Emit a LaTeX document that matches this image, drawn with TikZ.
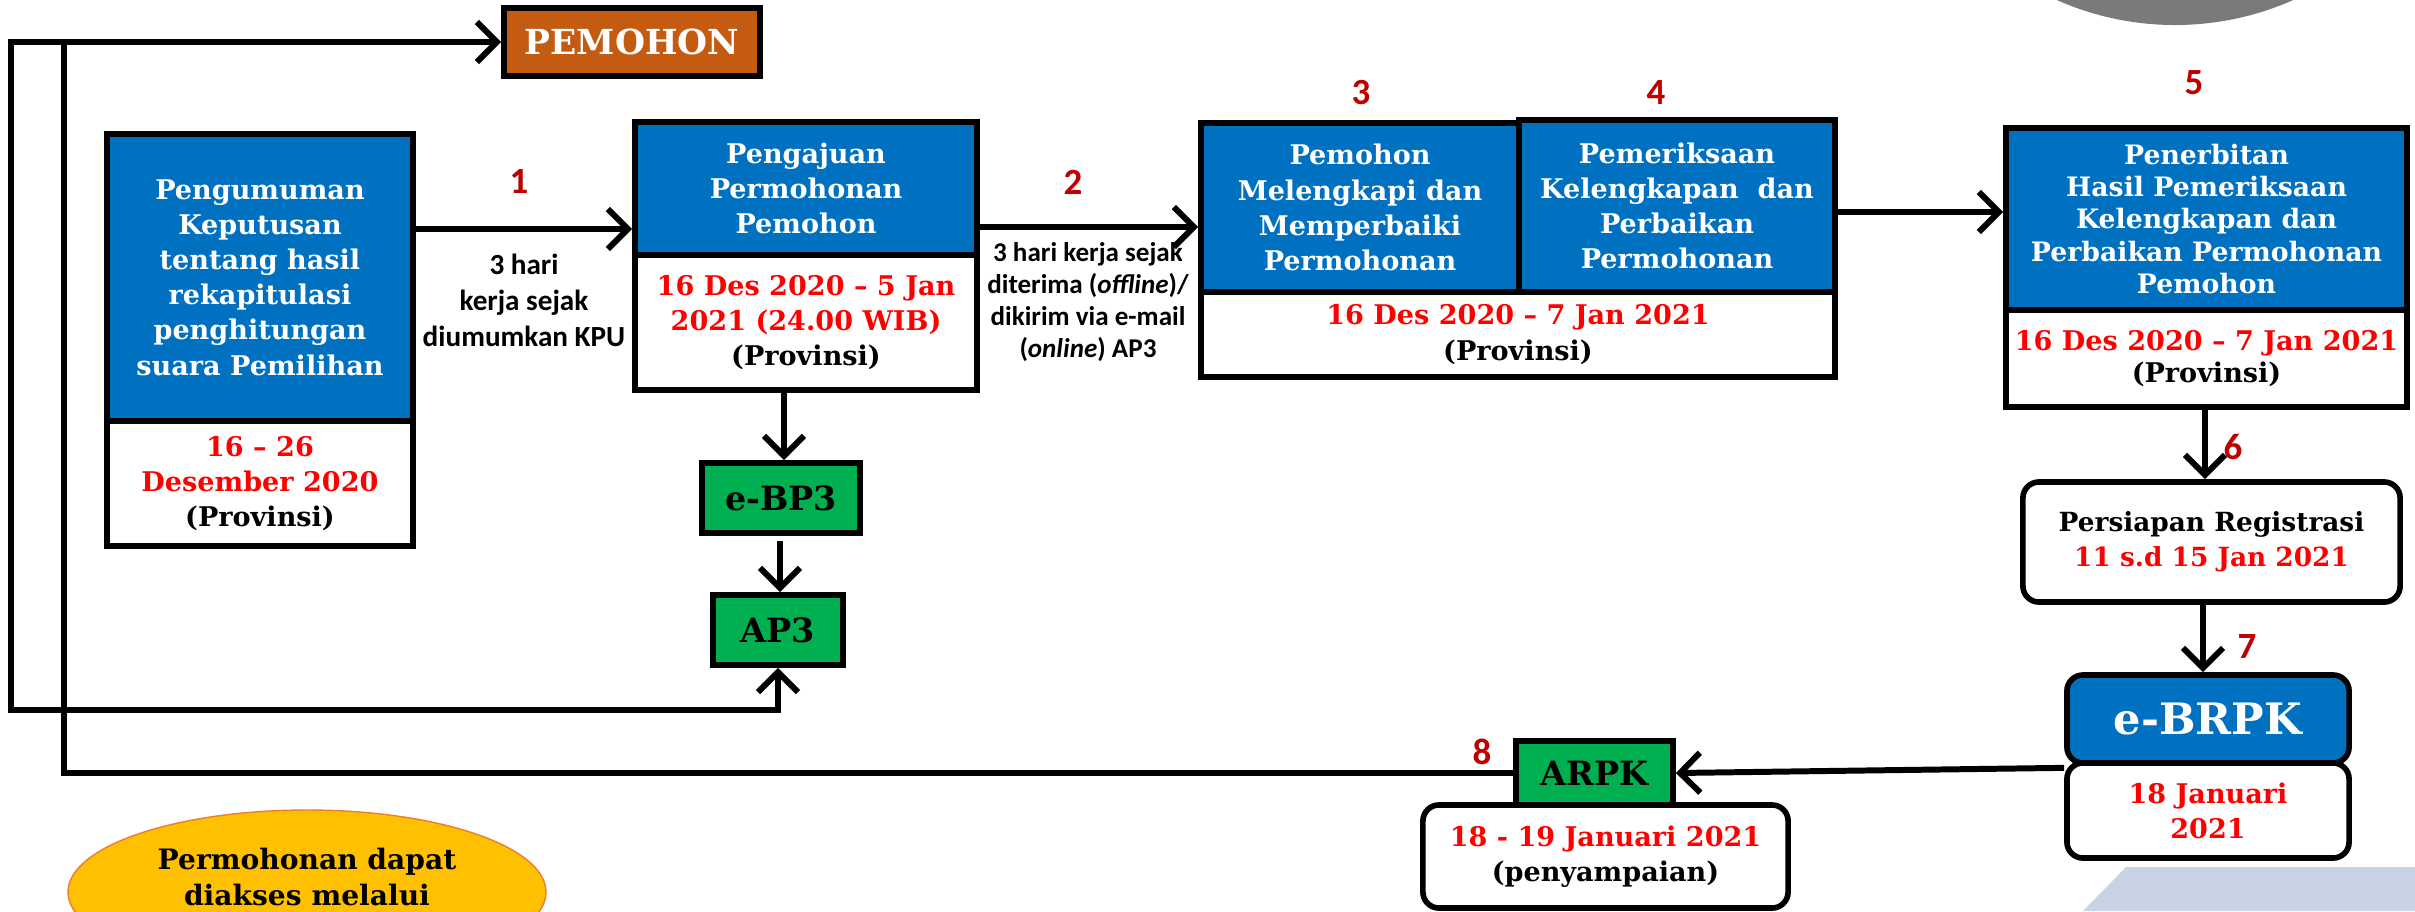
\documentclass[tikz,border=0pt]{standalone}
\usepackage{fontspec}
\newfontfamily\bk{DejaVu Serif}
\newfontfamily\clb{Carlito}
\usetikzlibrary{arrows.meta,calc}
\definecolor{myblue}{HTML}{0070C0}
\definecolor{mygreen}{HTML}{00B050}
\definecolor{myorange}{HTML}{C55A11}
\definecolor{myred}{HTML}{FF0000}
\definecolor{darkred}{HTML}{C00000}
\definecolor{myyellow}{HTML}{FFC000}
\definecolor{ellborder}{HTML}{ED7D31}
\definecolor{discgray}{HTML}{7A7A7A}
\definecolor{paleblue}{HTML}{C8D4E6}
\newcommand{\fs}[2]{\fontsize{#1}{#2}\selectfont}
\newcommand{\rd}[1]{\textcolor{myred}{#1}}
\begin{document}
\begin{tikzpicture}[x=0.01cm,y=-0.01cm,
  bx/.style={draw=black,line width=1.6pt,inner sep=0pt,align=center,font=\bk\bfseries\fs{7.7}{10}},
  bluebx/.style={bx,fill=myblue,text=white},
  whitebx/.style={bx,fill=white},
  rbx/.style={rounded corners=1.6mm},
  greenbx/.style={bx,fill=mygreen,font=\bk\bfseries\fs{9.5}{11}},
  conn/.style={line width=1.7pt,-{Straight Barb[length=2mm,width=4mm]}},
  num/.style={text=darkred,font=\clb\bfseries\fs{10.5}{12}},
  lbl/.style={align=center,font=\clb\bfseries\fs{8.3}{10.2}},
  lbltwo/.style={align=center,font=\clb\bfseries\fs{7.7}{9.1}}]
\useasboundingbox (0,0) rectangle (2415,911);
\fill[white] (0,0) rectangle (2415,911);
\begin{scope}
\clip (0,0) rectangle (2415,911);
\fill[discgray] (2175,-266) circle[radius=291];
\fill[paleblue] (2126,867) -- (2415,867) -- (2415,911) -- (2083,911) -- cycle;
\filldraw[fill=myyellow,draw=ellborder,line width=0.4pt] (307,892) ellipse[x radius=239,y radius=82];
\end{scope}
\node[align=center,font=\bk\bfseries\fs{8}{10.5}] (ell) at (307,877) {Permohonan dapat\\diakses melalui};

% boxes
\node[bx,fill=myorange,text=white,minimum width=2.56cm,minimum height=0.68cm,font=\bk\bfseries\fs{9.8}{12}] (pem) at (632,42) {PEMOHON};

\node[bluebx,minimum width=3.06cm,minimum height=2.87cm] (b1top) at (260,277.5)
 {Pengumuman\\Keputusan\\tentang hasil\\rekapitulasi\\penghitungan\\suara Pemilihan};
\node[whitebx,minimum width=3.06cm,minimum height=1.25cm] (b1bot) at (260,483.5)
 {\rd{16 – 26}\\\rd{Desember 2020}\\(Provinsi)};

\node[bluebx,minimum width=3.42cm,minimum height=1.33cm] (b2top) at (806,188.5)
 {Pengajuan\\Permohonan\\Pemohon};
\node[whitebx,minimum width=3.42cm,minimum height=1.35cm] (b2bot) at (806,322.5)
 {\rd{16 Des 2020 – 5 Jan}\\\rd{2021 (24.00 WIB)}\\(Provinsi)};

\node[greenbx,minimum width=1.58cm,minimum height=0.70cm] (ebp3) at (781,498) {e-BP3};
\node[greenbx,minimum width=1.30cm,minimum height=0.70cm] (ap3) at (778,630) {AP3};

\node[bluebx,minimum width=3.18cm,minimum height=1.69cm] (b3top) at (1360,207.5)
 {Pemohon\\Melengkapi dan\\Memperbaiki\\Permohonan};
\node[bluebx,minimum width=3.16cm,minimum height=1.72cm] (b4top) at (1677,206)
 {Pemeriksaan\\Kelengkapan\ \ dan\\Perbaikan\\Permohonan};
\node[whitebx,minimum width=6.34cm,minimum height=0.85cm] (b34bot) at (1518,334.5)
 {\rd{16 Des 2020 – 7 Jan 2021}\\(Provinsi)};

\node[bluebx,minimum width=4.01cm,minimum height=1.82cm,font=\bk\bfseries\fs{7.6}{9.2}] (b5top) at (2206.5,219)
 {Penerbitan\\Hasil Pemeriksaan\\Kelengkapan dan\\Perbaikan Permohonan\\Pemohon};
\node[whitebx,minimum width=4.01cm,minimum height=0.97cm,font=\bk\bfseries\fs{7.7}{9.2}] (b5bot) at (2206.5,358.5)
 {\rd{16 Des 2020 – 7 Jan 2021}\\(Provinsi)};

\node[whitebx,rbx,minimum width=3.77cm,minimum height=1.20cm,font=\bk\bfseries\fs{7.5}{10}] (b6) at (2211.5,542)
 {Persiapan Registrasi\\\rd{11 s.d 15 Jan 2021}};

\node[bx,rbx,fill=myblue,text=white,minimum width=2.82cm,minimum height=0.88cm,font=\bk\bfseries\fs{12.3}{14}] (ebrpk) at (2208,719) {e-BRPK};
\node[whitebx,rbx,minimum width=2.82cm,minimum height=0.95cm] (ebrpkd) at (2208,810.5)
 {\rd{18 Januari}\\\rd{2021}};

\node[whitebx,rbx,minimum width=3.65cm,minimum height=1.03cm] (arpkd) at (1605.5,856.5)
 {\rd{18 - 19 Januari 2021}\\(penyampaian)};
\node[greenbx,minimum width=1.57cm,minimum height=0.64cm] (arpk) at (1594.5,773) {ARPK};

% connectors
\coordinate (jn) at (64,42);
\coordinate (lc) at (11,42);
\coordinate (lb) at (11,710);
\coordinate (y1) at (0,229);
\coordinate (y2) at (0,227);
\coordinate (y3) at (0,212);
\coordinate (x1) at (784,0);
\coordinate (x2) at (780,0);
\coordinate (x3) at (2205,0);
\coordinate (x4) at (2203,0);
\draw[conn] (arpk.west) -| (jn) -- (pem.west);
\draw[conn] (jn) -- (lc) -- (lb) -| (ap3.south);
\draw[conn] (b1top.east |- y1) -- (b2top.west |- y1);
\draw[conn] (b2top.east |- y2) -- (b3top.west |- y2);
\draw[conn] (b4top.east |- y3) -- (b5top.west |- y3);
\draw[conn] (x1 |- b2bot.south) -- (x1 |- ebp3.north);
\draw[conn] ($(x2 |- ebp3.south)+(0,5)$) -- (x2 |- ap3.north);
\draw[conn] (x3 |- b5bot.south) -- (x3 |- b6.north);
\draw[conn] (x4 |- b6.south) -- (x4 |- ebrpk.north);
\draw[conn] ($(ebrpk.south west)+(0,2)$) -- (arpk.east);

% labels
\node[num] (n1) at (519,181) {1};
\node[num] (n2) at (1073,182) {2};
\node[num] (n3) at (1361,93) {3};
\node[num] (n4) at (1656,93) {4};
\node[num] (n5) at (2194,83) {5};
\node[num] (n6) at (2233,447) {6};
\node[num] (n7) at (2247,647) {7};
\node[num] (n8) at (1482,752) {8};
\node[lbl] (l1) at (524,300) {3 hari\\kerja sejak\\diumumkan KPU};
\node[lbltwo] (l2) at (1088,302) {3 hari kerja sejak\\diterima (\textit{offline})/\\dikirim via e-mail\\(\textit{online}) AP3};
\end{tikzpicture}
\end{document}
